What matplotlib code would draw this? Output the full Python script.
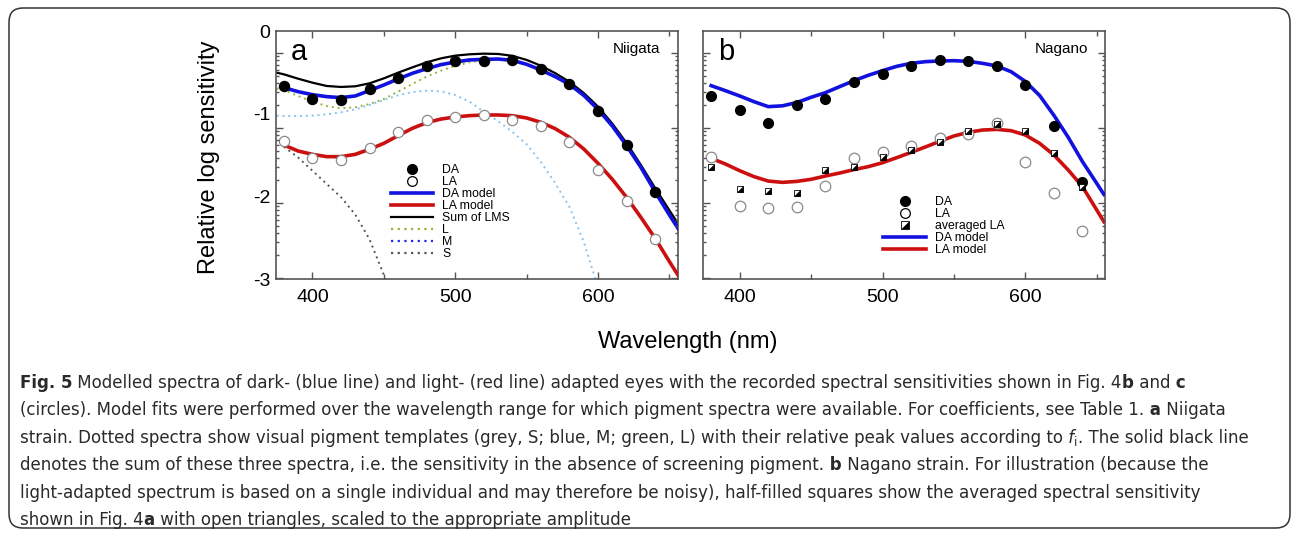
import numpy as np
import matplotlib
matplotlib.use("Agg")
import matplotlib.pyplot as plt
from matplotlib import font_manager
from matplotlib.lines import Line2D
from matplotlib.patches import FancyBboxPatch
from matplotlib.ticker import LogLocator, NullFormatter

plt.rcParams["font.family"] = ["Liberation Sans", "DejaVu Sans"]

W, H = 1295, 534

# ---- data (relative log sensitivity) ----
wl_pts = [380, 400, 420, 440, 460, 480, 500, 520, 540, 560, 580, 600, 620, 640]

# panel a: Niigata
a_da = [-0.665, -0.82, -0.835, -0.70, -0.57, -0.423, -0.36, -0.36, -0.355, -0.46, -0.64, -0.97, -1.375, -1.95]
a_la = [-1.33, -1.536, -1.565, -1.42, -1.218, -1.077, -1.036, -1.012, -1.077, -1.149, -1.343, -1.685, -2.06, -2.516]

wl_model = [380, 390, 400, 410, 420, 430, 440, 450, 460, 470, 480, 490, 500, 510, 520,
            530, 540, 550, 560, 570, 580, 590, 600, 610, 620, 630, 640, 650, 656]
a_da_model = [-0.685, -0.734, -0.77, -0.794, -0.806, -0.786, -0.72, -0.653, -0.58, -0.512,
              -0.456, -0.407, -0.375, -0.35, -0.343, -0.339, -0.355, -0.403, -0.472, -0.552,
              -0.645, -0.778, -0.948, -1.149, -1.387, -1.649, -1.944, -2.226, -2.387]
a_la_model = [-1.379, -1.452, -1.492, -1.52, -1.52, -1.492, -1.431, -1.359, -1.266, -1.177,
              -1.109, -1.065, -1.04, -1.024, -1.016, -1.016, -1.024, -1.052, -1.105, -1.181,
              -1.286, -1.427, -1.601, -1.794, -2.012, -2.254, -2.508, -2.79, -2.952]

wl_full = [375] + wl_model
a_sum = [-0.504, -0.524, -0.577, -0.625, -0.665, -0.677, -0.669, -0.633, -0.573, -0.504,
         -0.44, -0.379, -0.331, -0.298, -0.282, -0.274, -0.278, -0.30, -0.35, -0.42,
         -0.51, -0.615, -0.75, -0.915, -1.12, -1.355, -1.62, -1.90, -2.17, -2.33]
a_L = [-0.694, -0.714, -0.786, -0.855, -0.907, -0.935, -0.923, -0.883, -0.823, -0.734,
       -0.641, -0.552, -0.48, -0.423, -0.379, -0.351, -0.339, -0.35, -0.405, -0.478,
       -0.56, -0.655, -0.79, -0.96, -1.16, -1.40, -1.66, -1.955, -2.24, -2.40]

wl_M = [375, 380, 390, 400, 410, 420, 430, 440, 450, 460, 470, 480, 490, 500, 510,
        520, 530, 540, 550, 560, 570, 580, 590, 600]
a_M = [-1.024, -1.028, -1.028, -1.024, -1.008, -0.984, -0.948, -0.895, -0.835, -0.778,
       -0.738, -0.722, -0.73, -0.774, -0.855, -0.976, -1.09, -1.22, -1.37, -1.585,
       -1.84, -2.13, -2.55, -3.1]

wl_S = [380, 390, 400, 410, 420, 430, 440, 450, 455]
a_S = [-1.40, -1.53, -1.69, -1.85, -2.01, -2.22, -2.52, -2.95, -3.2]

# panel b: Nagano
b_da = [-0.79, -0.96, -1.109, -0.895, -0.819, -0.613, -0.52, -0.419, -0.351, -0.367, -0.423, -0.653, -1.149, -1.823]
b_la = [-1.528, -2.117, -2.145, -2.133, -1.875, -1.532, -1.464, -1.387, -1.294, -1.25, -1.109, -1.589, -1.964, -2.415]
b_avg = [-1.645, -1.911, -1.931, -1.964, -1.677, -1.649, -1.528, -1.44, -1.339, -1.206, -1.121, -1.21, -1.48, -1.883]

wl_model_b = wl_model[:-1] + [655]
b_da_model = [-0.661, -0.722, -0.786, -0.855, -0.915, -0.905, -0.865, -0.802, -0.746, -0.673,
              -0.601, -0.536, -0.48, -0.427, -0.391, -0.371, -0.363, -0.359, -0.367, -0.391,
              -0.423, -0.492, -0.61, -0.78, -1.02, -1.285, -1.58, -1.843, -1.976]
b_la_model = [-1.54, -1.609, -1.69, -1.762, -1.815, -1.831, -1.819, -1.794, -1.754, -1.718,
              -1.677, -1.641, -1.593, -1.532, -1.468, -1.403, -1.335, -1.27, -1.226, -1.198,
              -1.19, -1.206, -1.258, -1.359, -1.5, -1.681, -1.883, -2.165, -2.306]

# ---- styles ----
BLUE = "#1212e0"
RED = "#cc1010"
GREEN = "#93b53a"
SKY = "#86c3ef"
SGREY = "#555555"
MBLUE = "#2424f0"
OPEN_EDGE = "#8a8a8a"
SPINE = "#555555"

fig = plt.figure(figsize=(W / 100, H / 100), dpi=100)

# rounded frame round the whole figure
frame = FancyBboxPatch((0.09, 0.06), 12.81, 5.20,
                       boxstyle="round,pad=0,rounding_size=0.14",
                       transform=fig.dpi_scale_trans, facecolor="none",
                       edgecolor="#333333", linewidth=1.1)
fig.add_artist(frame)


def style_axes(ax, show_labels):
    ax.set_xlim(374.5, 656)
    ax.set_ylim(-3, 0)
    ax.set_xticks([400, 500, 600])
    ax.set_xticks([450, 550, 650], minor=True)
    ax.tick_params(axis="x", which="both", direction="in", top=True, bottom=True,
                   color=SPINE, width=1, labelsize=14, pad=7)
    ax.tick_params(axis="x", which="major", length=5)
    ax.tick_params(axis="x", which="minor", length=3.5)
    ax.set_yticks([0, -1, -2, -3])
    ax.set_yticklabels(["0", "-1", "-2", "-3"])
    ax.tick_params(axis="y", length=0, labelsize=14, pad=4, labelleft=show_labels)
    for sp in ax.spines.values():
        sp.set_color(SPINE)
        sp.set_linewidth(1.2)
    # tick marks of the original log axis
    tk = ax.twinx()
    tk.set_yscale("log")
    tk.set_ylim(10 ** -3.013, 10 ** 0.293)
    tk.yaxis.set_major_locator(LogLocator(base=10))
    tk.yaxis.set_minor_locator(LogLocator(base=10, subs=np.arange(2, 10)))
    tk.yaxis.set_minor_formatter(NullFormatter())
    tk.tick_params(axis="y", which="both", direction="in", left=True, right=True,
                   labelleft=False, labelright=False, color=SPINE, width=1)
    tk.tick_params(axis="y", which="major", length=5)
    tk.tick_params(axis="y", which="minor", length=2.5)
    for sp in tk.spines.values():
        sp.set_visible(False)


ax_a = fig.add_axes([276 / W, 1 - 279 / H, 402 / W, 248 / H])
ax_b = fig.add_axes([703.3 / W, 1 - 279 / H, 402 / W, 248 / H])

dot = (0, (1, 2))

# panel a
ax_a.plot(wl_full, a_L, color=GREEN, lw=1.4, ls=dot, zorder=1)
ax_a.plot(wl_M, a_M, color=SKY, lw=1.4, ls=dot, zorder=1)
ax_a.plot(wl_S, a_S, color=SGREY, lw=1.4, ls=dot, zorder=1)
ax_a.plot(wl_full, a_sum, color="black", lw=1.6, zorder=2)
ax_a.plot(wl_model, a_da_model, color=BLUE, lw=2.6, zorder=3)
ax_a.plot(wl_model, a_la_model, color=RED, lw=2.6, zorder=3)
ax_a.plot(wl_pts, a_da, "o", color="black", ms=7.2, zorder=4)
ax_a.plot(wl_pts, a_la, "o", mfc="white", mec=OPEN_EDGE, mew=0.9, ms=7.4, zorder=4)

# panel b
ax_b.plot(wl_model_b, b_da_model, color=BLUE, lw=2.6, zorder=3)
ax_b.plot(wl_model_b, b_la_model, color=RED, lw=2.6, zorder=3)
ax_b.plot(wl_pts, b_da, "o", color="black", ms=7.0, zorder=4)
ax_b.plot(wl_pts, b_la, "o", mfc="white", mec=OPEN_EDGE, mew=0.9, ms=7.6, zorder=4)
half_tri = [(1, 1), (1, -1), (-1, -1), (1, 1)]
ax_b.plot(wl_pts, b_avg, "s", mfc="white", mec="black", mew=0.6, ms=4.4, zorder=5)
ax_b.plot(wl_pts, b_avg, marker=half_tri, ls="none", mfc="black", mec="black", mew=0.3, ms=4.4, zorder=6)

style_axes(ax_a, True)
style_axes(ax_b, False)

for ax, letter, place in [(ax_a, "a", "Niigata"), (ax_b, "b", "Nagano")]:
    ax.text(0.057, 0.883, letter, transform=ax.transAxes, fontsize=21,
            ha="center", va="baseline")
    ax.text(0.957, 0.91, place, transform=ax.transAxes, fontsize=11,
            ha="right", va="baseline")

# legends
h_da = Line2D([], [], marker="o", ls="none", color="black", ms=7)
h_la = Line2D([], [], marker="o", ls="none", mfc="white", mec="black", mew=0.9, ms=7)
h_dam = Line2D([], [], color=BLUE, lw=2.6)
h_lam = Line2D([], [], color=RED, lw=2.6)
h_sum = Line2D([], [], color="black", lw=1.6)
h_L = Line2D([], [], color=GREEN, lw=1.6, ls=dot)
h_M = Line2D([], [], color=MBLUE, lw=1.6, ls=dot)
h_S = Line2D([], [], color=SGREY, lw=1.6, ls=dot)
h_sq = (Line2D([], [], marker="s", ls="none", mfc="white", mec="black", mew=0.6, ms=5.2),
        Line2D([], [], marker=half_tri, ls="none", mfc="black", mec="black", mew=0.3, ms=5.2))

leg_kw = dict(loc="upper left", frameon=False, fontsize=8.8, handlelength=3.5,
              handletextpad=0.7, labelspacing=0.0, borderpad=0, borderaxespad=0,
              numpoints=1)
ax_a.legend([h_da, h_la, h_dam, h_lam, h_sum, h_L, h_M, h_S],
            ["DA", "LA", "DA model", "LA model", "Sum of LMS", "L", "M", "S"],
            bbox_to_anchor=(0.285, 0.462), **leg_kw)
ax_b.legend([h_da, h_la, h_sq, h_dam, h_lam],
            ["DA", "LA", "averaged LA", "DA model", "LA model"],
            bbox_to_anchor=(0.448, 0.333), **leg_kw)

fig.text(688 / W, 1 - 342 / H, "Wavelength (nm)", ha="center", va="center", fontsize=17)
fig.text(209 / W, 1 - 157 / H, "Relative log sensitivity", ha="center", va="center",
         rotation=90, fontsize=17)

# ---- caption ----
narrow = [f for f in font_manager.fontManager.ttflist
          if str(f.stretch) in ("condensed", "semi-condensed", "extra-condensed")
          or (isinstance(f.stretch, int) and f.stretch < 100)
          or "Narrow" in f.name or "Condensed" in f.name]
if any(f.name == "Liberation Sans Narrow" for f in narrow):
    cap_font = dict(family="Liberation Sans Narrow")
elif narrow:
    cap_font = dict(family=narrow[0].name, stretch="condensed")
else:
    cap_font = dict(family="Liberation Sans")
CAP = "#2a2a2a"

caption = [
    [("Fig. 5", "b"), (" Modelled spectra of dark- (blue line) and light- (red line) adapted eyes with the recorded spectral sensitivities shown in Fig. 4", "r"), ("b", "b"), (" and", "r"), (" c", "b")],
    [("(circles). Model fits were performed over the wavelength range for which pigment spectra were available. For coefficients, see Table 1.", "r"), (" a", "b"), (" Niigata", "r")],
    [("strain. Dotted spectra show visual pigment templates (grey, S; blue, M; green, L) with their relative peak values according to", "r"), (" f", "i"), ("i", "s"), (". The solid black line", "r")],
    [("denotes the sum of these three spectra, i.e. the sensitivity in the absence of screening pigment.", "r"), (" b", "b"), (" Nagano strain. For illustration (because the", "r")],
    [("light-adapted spectrum is based on a single individual and may therefore be noisy), half-filled squares show the averaged spectral sensitivity", "r")],
    [("shown in Fig. 4", "r"), ("a", "b"), (" with open triangles, scaled to the appropriate amplitude", "r")],
]
line_y = [388, 415, 443, 470, 498, 525]  # baselines in pixels from top
line_end = [1175, 1275, 1274, 1230, 1218, 673]  # right ends in the reference

renderer = fig.canvas.get_renderer()
scales = []
for segs, xe in zip(caption, line_end):
    probe = fig.text(0, 0, "".join(s for s, _ in segs), fontsize=12, **cap_font)
    scales.append((xe - 20) / probe.get_window_extent(renderer).width)
    probe.remove()
cap_size = 12 * min(scales)

for segs, yb in zip(caption, line_y):
    x = 20.0
    for s, kind in segs:
        kw = dict(fontsize=cap_size, color=CAP, va="baseline", ha="left", **cap_font)
        y = 1 - yb / H
        if kind == "b":
            kw["weight"] = "bold"
        elif kind == "i":
            kw["style"] = "italic"
        elif kind == "s":
            kw["fontsize"] = cap_size * 0.7
            y = 1 - (yb + 3) / H
        t = fig.text(x / W, y, s, **kw)
        x = t.get_window_extent(renderer).x1

fig.savefig("out.png", dpi=100)
